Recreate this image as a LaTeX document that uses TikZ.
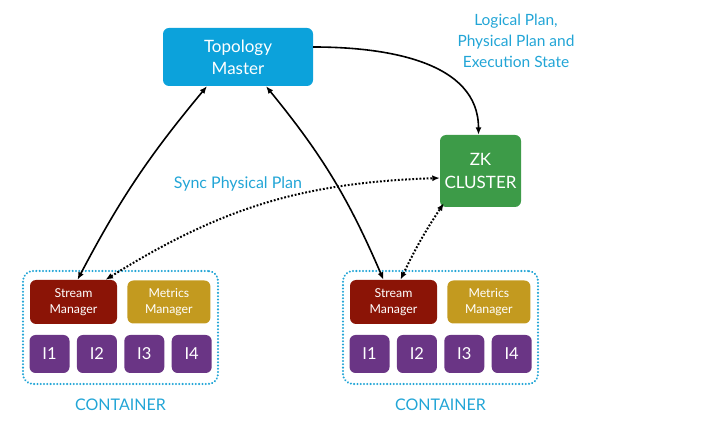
\documentclass[tikz,border=0pt]{standalone}
\usepackage{fontspec}
\setmainfont{Lato}
\usepackage{xcolor}
\usetikzlibrary{arrows.meta, positioning}
\definecolor{tmblue}{HTML}{0CA2DB}
\definecolor{zkgreen}{HTML}{3D9B48}
\definecolor{smred}{HTML}{8B1406}
\definecolor{mmgold}{HTML}{C39A1F}
\definecolor{instpurple}{HTML}{6A3585}
\definecolor{lblue}{HTML}{22A5D6}

\begin{document}
\begin{tikzpicture}[
  x=1pt, y=-1pt,
  >={Latex[length=7.5pt,width=6pt]},
  every node/.style={inner sep=0pt, anchor=center, font=\fontsize{16}{22}\selectfont},
  box/.style={rounded corners=6pt, text=white, align=center},
  master/.style={box, fill=tmblue, minimum width=150pt, minimum height=58pt, font=\fontsize{17}{22}\selectfont},
  zk/.style={box, fill=zkgreen, minimum width=81pt, minimum height=72pt, font=\fontsize{17}{23}\selectfont},
  smgr/.style={box, fill=smred, minimum width=87pt, minimum height=44pt, font=\fontsize{12.3}{16}\selectfont},
  mmgr/.style={box, fill=mmgold, minimum width=83pt, minimum height=43pt, font=\fontsize{12.3}{16}\selectfont},
  inst/.style={box, fill=instpurple, minimum width=40pt, minimum height=38pt, font=\fontsize{16.5}{16}\selectfont},
  container/.style={draw=lblue, line width=2.2pt, dash pattern=on 0.1pt off 3.2pt, line cap=round, rounded corners=10pt, minimum width=195pt, minimum height=113pt},
  caption/.style={text=lblue, align=center},
  link/.style={line width=1.6pt, draw=black},
  sync/.style={line width=2pt, draw=black, dash pattern=on 1.8pt off 1.8pt}
]
  \useasboundingbox (0,0) rectangle (726,430);
  % ----- master and zookeeper -----
  \node[master] (tm) at (238,57) {Topology\\Master};
  \node[zk] (zk) at (480.5,171) {ZK\\CLUSTER};
  \node[caption, font=\fontsize{15.5}{21}\selectfont] (state) at (516,41) {Logical Plan,\\Physical Plan and\\Execution State};
  \node[caption] (synclbl) at (238,184) {Sync Physical Plan};
  % ----- first container -----
  \node[container] (cont1) at (120.5,327.5) {};
  \node[smgr] (sm1) at (73.5,302) {Stream\\Manager};
  \node[mmgr, right=10pt of sm1] (mm1) {Metrics\\Manager};
  \node[inst] (i11) at (49.5,354) {I1};
  \node[inst, right=7pt of i11] (i12) {I2};
  \node[inst, right=7pt of i12] (i13) {I3};
  \node[inst, right=7pt of i13] (i14) {I4};
  \node[caption, below=14pt of cont1] (cap1) {CONTAINER};
  % ----- second container -----
  \node[container] (cont2) at (440.5,327.5) {};
  \node[smgr] (sm2) at (393.5,302) {Stream\\Manager};
  \node[mmgr, right=10pt of sm2] (mm2) {Metrics\\Manager};
  \node[inst] (i21) at (369.5,354) {I1};
  \node[inst, right=7pt of i21] (i22) {I2};
  \node[inst, right=7pt of i22] (i23) {I3};
  \node[inst, right=7pt of i23] (i24) {I4};
  \node[caption, below=14pt of cont2] (cap2) {CONTAINER};
  % ----- master <-> stream managers -----
  \draw[<->,link,bend right=6] ([xshift=-31pt]tm.south) to ([xshift=4pt]sm1.north);
  \draw[<->,link,bend left=8] ([xshift=28pt]tm.south) to ([xshift=-10pt]sm2.north);
  % ----- master -> zk -----
  \draw[->,link] ([yshift=10pt]tm.east) to[out=0,in=90] ([xshift=-2pt]zk.north);
  % ----- physical plan sync -----
  \draw[<->,sync,bend left=15] ([xshift=32pt]sm1.north) to ([yshift=-7pt]zk.west);
  \draw[<->,sync,bend left=4] ([xshift=7pt]sm2.north) to ([xshift=4pt,yshift=4pt]zk.south west);
\end{tikzpicture}
\end{document}
